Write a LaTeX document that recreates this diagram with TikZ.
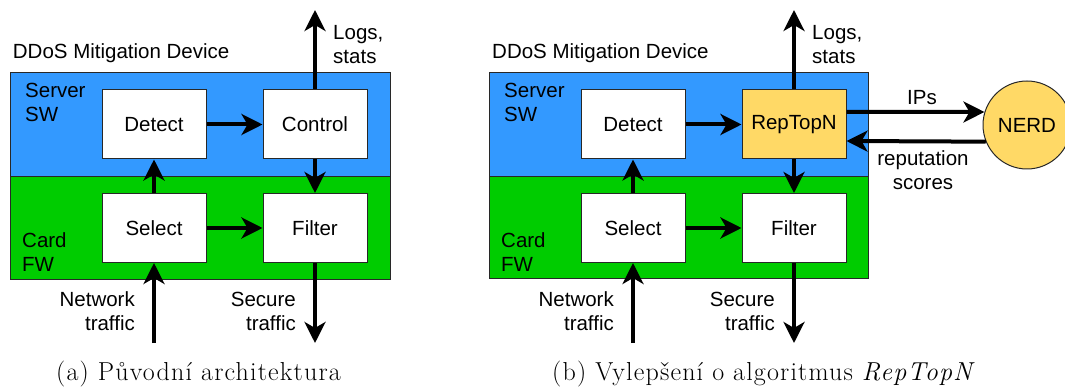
\documentclass[tikz,border=0pt]{standalone}
\usepackage{fontspec}
\setsansfont{Liberation Sans}
\newfontfamily\capfont{Latin Modern Roman}[LetterSpace=4.5]
\usetikzlibrary{arrows.meta}
\definecolor{swblue}{RGB}{51,153,255}
\definecolor{fwgreen}{RGB}{0,204,0}
\definecolor{nerdy}{RGB}{255,217,102}
\definecolor{edge}{RGB}{40,40,40}

\begin{document}
\begin{tikzpicture}[x=1pt,y=-1pt,
  lbl/.style={font=\sffamily\fontsize{20.5}{24}\selectfont, inner sep=0pt},
  block/.style={lbl, draw=edge, line width=1pt, fill=white,
                minimum width=104pt, minimum height=69pt},
  flow/.style={line width=4pt, -{Stealth[length=21pt,width=21pt,inset=6pt]}},
  layer/.style={draw=edge, line width=1pt},
  subcaption/.style={font=\capfont\fontsize{26}{30}\selectfont,
                     inner sep=0pt, anchor=base west}]

\useasboundingbox (0,0) rectangle (1065,387);

% ---------- (a) original architecture ----------
\draw[layer, fill=swblue] (10,73) rectangle (390,177);
\draw[layer, fill=fwgreen] (10,177) rectangle (390,280);
\node[lbl, anchor=base west] (titleA) at (12.7,59) {DDoS Mitigation Device};
\node[lbl, align=left, anchor=base west] (srvA) at (25,122) {Server\\SW};
\node[lbl, align=left, anchor=base west] (fwA) at (22,272) {Card\\FW};

\node[block] (detA) at (154,124.5) {Detect};
\node[block] (ctlA) at (315,124.5) {Control};
\node[block] (selA) at (154,228) {Select};
\node[block] (filA) at (315,228) {Filter};

\coordinate (logsA) at (315,10);
\coordinate (inA) at (154,343);
\coordinate (outA) at (315,343);

\draw[flow] (detA) -- (ctlA);
\draw[flow] (selA) -- (filA);
\draw[flow] (selA) -- (detA);
\draw[flow] (ctlA) -- (filA);
\draw[flow] (ctlA) -- (logsA);
\draw[flow] (inA) -- (selA);
\draw[flow] (filA) -- (outA);

\node[lbl, align=left, anchor=base west] (logsTxtA) at (333,64) {Logs,\\stats};
\node[lbl, align=right, anchor=base east] (netTxtA) at (135,330) {Network\\traffic};
\node[lbl, align=right, anchor=base east] (secTxtA) at (296,330) {Secure\\traffic};

\node[subcaption] (capA) at (56,380) {(a) Původní architektura};

% ---------- (b) with RepTopN ----------
\draw[layer, fill=swblue] (489,73) rectangle (868,177);
\draw[layer, fill=fwgreen] (489,177) rectangle (868,279);
\node[lbl, anchor=base west] (titleB) at (492,59) {DDoS Mitigation Device};
\node[lbl, align=left, anchor=base west] (srvB) at (504,122) {Server\\SW};
\node[lbl, align=left, anchor=base west] (fwB) at (501,272) {Card\\FW};

\node[block] (detB) at (633,124.5) {Detect};
\node[block, fill=nerdy] (repB) at (794,124.5) {RepTopN};
\node[block] (selB) at (633,228) {Select};
\node[block] (filB) at (794,228) {Filter};

\node[lbl, circle, draw=edge, line width=1pt, fill=nerdy,
      minimum size=88pt] (nerd) at (1027,125) {NERD};

\coordinate (logsB) at (794,10);
\coordinate (inB) at (633,343);
\coordinate (outB) at (794,343);

\draw[flow] (detB) -- (repB);
\draw[flow] (selB) -- (filB);
\draw[flow] (selB) -- (detB);
\draw[flow] (repB) -- (filB);
\draw[flow] (repB) -- (logsB);
\draw[flow] (inB) -- (selB);
\draw[flow] (filB) -- (outB);
\draw[flow] ([yshift=12.5pt]repB.east) -- (nerd.163);
\draw[flow] (nerd.202) -- ([yshift=-16.5pt]repB.east);

\node[lbl, align=left, anchor=base west] (logsTxtB) at (812,64) {Logs,\\stats};
\node[lbl, align=right, anchor=base east] (netTxtB) at (614,330) {Network\\traffic};
\node[lbl, align=right, anchor=base east] (secTxtB) at (775,330) {Secure\\traffic};
\node[lbl, anchor=base] (ipsTxt) at (922,105) {IPs};
\node[lbl, align=center, anchor=base] (repTxt) at (923,190) {reputation\\scores};

\node[subcaption] (capB) at (552,380) {(b) Vylepšení o algoritmus \textit{RepTopN}};
\end{tikzpicture}
\end{document}
